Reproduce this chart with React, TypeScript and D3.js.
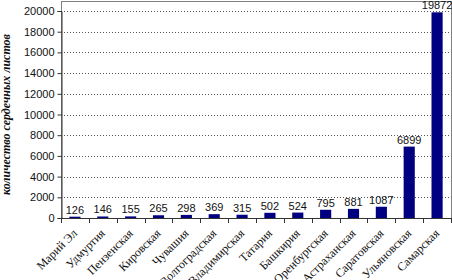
import { useEffect, useRef } from 'react';
import * as d3 from 'd3';

const regions = [
  'Марий Эл', 'Удмуртия', 'Пензенская', 'Кировская', 'Чувашия', 'Волгоградская',
  'Владимирская', 'Татария', 'Башкирия', 'Оренбургская', 'Астраханская',
  'Саратовская', 'Ульяновская', 'Самарская',
];
const counts = [126, 146, 155, 265, 298, 369, 315, 502, 524, 795, 881, 1087, 6899, 19872];
const yTicks = [0, 2000, 4000, 6000, 8000, 10000, 12000, 14000, 16000, 18000, 20000];
const yTitle = 'количество сердечных листов';

export default function App() {
  const svgRef = useRef<SVGSVGElement>(null);
  const width = 452;
  const height = 280;

  useEffect(() => {
    const svg = d3.select(svgRef.current);
    svg.selectAll('*').remove();

    const left = 61, right = 451, top = 1, bottom = 218;

    const x = d3.scaleBand<string>().domain(regions).range([left, right]).paddingInner(0.6).paddingOuter(0.3);
    const y = d3.scaleLinear().domain([0, 20000]).range([bottom, 11]);

    // plot box
    svg.append('rect')
      .attr('x', left + 0.5).attr('y', top + 0.5)
      .attr('width', right - left).attr('height', bottom - top)
      .attr('fill', 'white').attr('stroke', '#808080');

    // grid
    svg.append('g')
      .selectAll('line')
      .data(yTicks.filter(t => t > 0))
      .join('line')
      .attr('x1', left).attr('x2', right)
      .attr('y1', d => Math.round(y(d)) + 0.5).attr('y2', d => Math.round(y(d)) + 0.5)
      .attr('stroke', '#555').attr('stroke-dasharray', '1,2');

    // y axis
    const yAxis = svg.append('g')
      .attr('transform', `translate(${left + 0.5},0)`)
      .call(d3.axisLeft(y).tickValues(yTicks).tickSize(4).tickPadding(3).tickFormat(d3.format('d')));
    yAxis.select('.domain').attr('stroke', '#333');
    yAxis.selectAll('.tick line').attr('stroke', '#333');
    yAxis.selectAll('text')
      .attr('fill', '#111')
      .style('font-family', '"Liberation Sans", Arial, sans-serif')
      .style('font-size', '11px');

    // x axis line and category ticks
    const step = (right - left) / regions.length;
    svg.append('line')
      .attr('x1', left).attr('x2', right)
      .attr('y1', bottom + 0.5).attr('y2', bottom + 0.5)
      .attr('stroke', '#333');
    svg.append('g')
      .selectAll('line')
      .data(d3.range(regions.length + 1))
      .join('line')
      .attr('x1', i => Math.round(left + i * step) + 0.5)
      .attr('x2', i => Math.round(left + i * step) + 0.5)
      .attr('y1', bottom).attr('y2', bottom + 5)
      .attr('stroke', '#333');

    // bars
    svg.append('g')
      .selectAll('rect')
      .data(counts)
      .join('rect')
      .attr('x', (d, i) => x(regions[i])!)
      .attr('width', x.bandwidth())
      .attr('y', d => y(d))
      .attr('height', d => bottom - y(d))
      .attr('fill', '#000080');

    // value labels
    svg.append('g')
      .selectAll('text')
      .data(counts)
      .join('text')
      .attr('x', (d, i) => x(regions[i])! + x.bandwidth() / 2)
      .attr('y', d => y(d) - 3)
      .attr('text-anchor', 'middle')
      .attr('fill', '#111')
      .style('font-family', '"Liberation Sans", Arial, sans-serif')
      .style('font-size', '11px')
      .text(d => d);

    // category labels
    svg.append('g')
      .selectAll('text')
      .data(regions)
      .join('text')
      .attr('transform', d => `translate(${x(d)! + x.bandwidth() / 2},${bottom + 13}) rotate(-45)`)
      .attr('text-anchor', 'end')
      .attr('dy', '0.35em')
      .attr('fill', '#111')
      .style('font-family', '"Liberation Serif", "Times New Roman", serif')
      .style('font-size', '12px')
      .text(d => d);

    // y title
    svg.append('text')
      .attr('transform', `translate(10,${(bottom + top) / 2 + 5}) rotate(-90)`)
      .attr('text-anchor', 'middle')
      .attr('fill', '#111')
      .style('font-family', '"Liberation Serif", "Times New Roman", serif')
      .style('font-size', '12px')
      .style('font-weight', 'bold')
      .style('font-style', 'italic')
      .text(yTitle);
  }, []);

  return (
    <svg
      ref={svgRef}
      width={width}
      height={height}
      style={{ position: 'absolute', left: 0, top: 0, background: 'white' }}
    />
  );
}
